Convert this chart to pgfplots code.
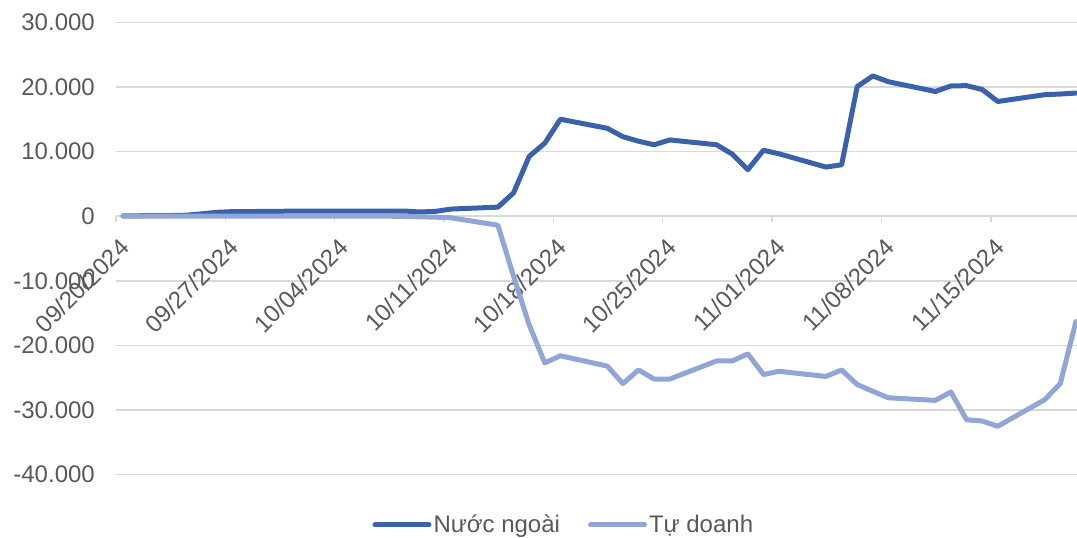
\documentclass[border=0pt]{standalone}
\usepackage{fontspec}
\setmainfont{Liberation Sans}
\usepackage{pgfplots}
\usepackage{pgfplotstable}
\pgfplotsset{compat=1.18}
\definecolor{nn}{HTML}{3A62AC}
\definecolor{td}{HTML}{8FA6D7}
\definecolor{txt}{HTML}{595959}
\definecolor{grd}{HTML}{D9D9D9}
% day index: 0 = 09/20/2024 (trading days only)
\pgfplotstableread{
day nn td
0 50 0
3 100 0
4 150 0
5 350 0
6 600 0
7 700 0
10 750 0
11 800 0
12 800 0
13 800 0
14 800 0
17 800 0
18 800 -50
19 650 -100
20 750 -150
21 1100 -250
24 1400 -1400
25 3600 -9300
26 9250 -16800
27 11300 -22700
28 15000 -21600
31 13600 -23200
32 12300 -25900
33 11600 -23800
34 11050 -25200
35 11800 -25200
38 11050 -22400
39 9600 -22400
40 7200 -21300
41 10200 -24500
42 9650 -24000
45 7600 -24800
46 7950 -23800
47 20050 -26050
48 21700 -27100
49 20800 -28100
52 19300 -28500
53 20150 -27200
54 20200 -31500
55 19600 -31700
56 17750 -32500
59 18800 -28400
60 18900 -25900
61 19050 -16300
}\datatable
\begin{document}
\begin{tikzpicture}[x=1pt,y=1pt]
\path[use as bounding box] (0,0) rectangle (1077,538);
\begin{axis}[
  at={(116pt,63.3pt)}, anchor=south west,
  scale only axis, width=961pt, height=452.4pt,
  xmin=-0.45, xmax=61.07, ymin=-40000, ymax=30000,
  scaled y ticks=false, scaled x ticks=false,
  axis x line*=middle, axis y line*=left,
  hide obscured x ticks=false, hide obscured y ticks=false,
  x axis line style={draw=grd, line width=1.5pt, -},
  y axis line style={draw=none, -},
  xtick={-0.45,6.55,13.55,20.55,27.55,34.55,41.55,48.55,55.55},
  xticklabels={09/20/2024,09/27/2024,10/04/2024,10/11/2024,10/18/2024,10/25/2024,11/01/2024,11/08/2024,11/15/2024},
  xtick align=outside,
  major tick length=6pt,
  xtick style={draw=grd, line width=1.5pt},
  ytick={-40000,-30000,-20000,-10000,0,10000,20000,30000},
  yticklabels={-40.000,-30.000,-20.000,-10.000,0,10.000,20.000,30.000},
  ytick style={draw=none},
  ymajorgrids, grid style={draw=grd, line width=1.5pt},
  tick label style={font=\fontsize{24}{28}\selectfont, text=txt},
  xticklabel style={rotate=45, anchor=east, inner sep=0pt, xshift=-8.5pt, yshift=-21pt},
  yticklabel style={anchor=east, inner sep=0pt, xshift=-21pt},
  legend style={at={(0.466,-0.111)}, anchor=center, draw=none, fill=none,
    font=\fontsize{24}{28}\selectfont, text=txt,
    nodes={inner sep=2pt},
    /tikz/every even column/.append style={column sep=26pt}},
  legend columns=2,
  legend image code/.code={\draw[#1] (0pt,0pt) -- (54pt,0pt);},
]
\addplot[nn, line width=5pt, line join=round, line cap=round] table[x=day, y=nn] {\datatable};
\addlegendentry{Nước ngoài}
\addplot[td, line width=5pt, line join=round, line cap=round] table[x=day, y=td] {\datatable};
\addlegendentry{Tự doanh}
\end{axis}
\end{tikzpicture}
\end{document}
